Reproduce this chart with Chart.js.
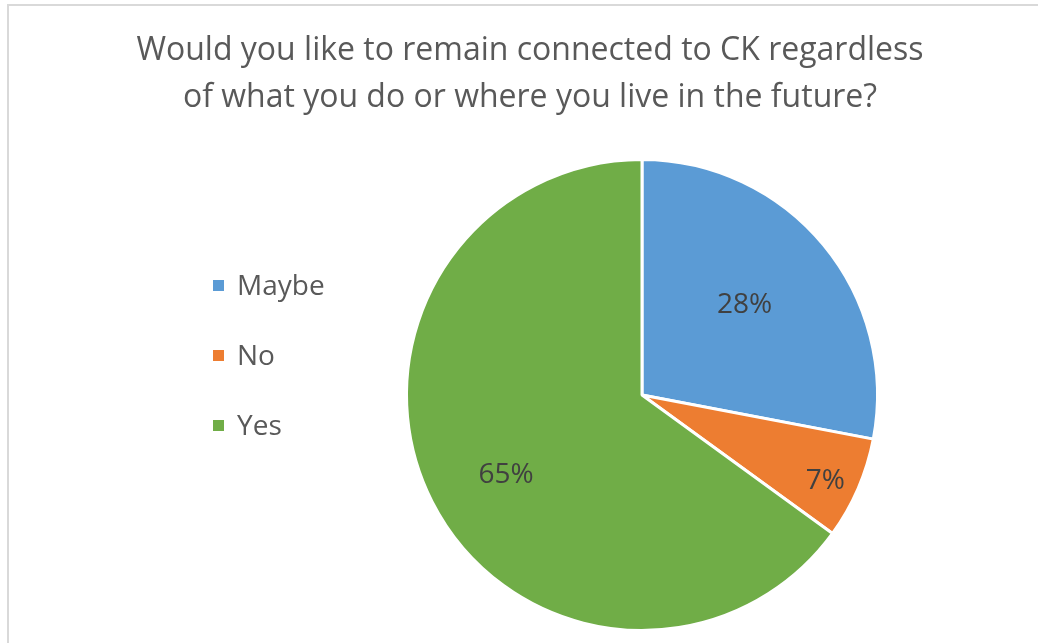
<!DOCTYPE html>
<html>
<head>
<meta charset="utf-8">
<script src="https://cdn.jsdelivr.net/npm/chart.js@4/dist/chart.umd.min.js"></script>
<style>
  html, body { margin: 0; padding: 0; background: #fff; overflow: hidden; }
  #wrap { position: relative; width: 1038px; height: 643px; }
  #frame { position: absolute; left: 7px; top: 4px; width: 1100px; height: 700px;
           border: 2px solid #d9d9d9; box-sizing: border-box; }
  #chart { position: absolute; left: 0; top: 0; }
  #title { position: absolute; left: 30px; width: 1000px; top: 24px; text-align: center;
           font-family: "Open Sans", sans-serif; font-size: 32px; line-height: 47px; color: #595959; }
  #legend { position: absolute; left: 213px; top: 267px; font-family: "Open Sans", sans-serif;
            font-size: 28px; color: #595959; }
  #legend .item { height: 70px; line-height: 34px; white-space: nowrap; }
  #legend .box { display: inline-block; width: 11px; height: 11px; margin-right: 13px;
                 vertical-align: 4px; }
</style>
</head>
<body>
<div id="wrap">
  <div id="frame"></div>
  <canvas id="chart" width="1038" height="643"></canvas>
  <div id="title"></div>
  <div id="legend"></div>
</div>
<script>
var titleLines = ['Would you like to remain connected to CK regardless',
                  'of what you do or where you live in the future?'];
var categories = ['Maybe', 'No', 'Yes'];
var shares = [28, 7, 65];
var sliceColors = ['#5B9BD5', '#ED7D31', '#70AD47'];

(function () {
  var title = document.getElementById('title');
  titleLines.forEach(function (line) {
    var d = document.createElement('div');
    d.textContent = line;
    title.appendChild(d);
  });

  // legend, built from the same arrays
  var legend = document.getElementById('legend');
  categories.forEach(function (name, i) {
    var row = document.createElement('div');
    row.className = 'item';
    var box = document.createElement('span');
    box.className = 'box';
    box.style.background = sliceColors[i];
    row.appendChild(box);
    row.appendChild(document.createTextNode(name));
    legend.appendChild(row);
  });

  // percentage labels inside the slices
  var sliceLabels = {
    id: 'sliceLabels',
    afterDatasetsDraw: function (chart, args, opts) {
      var ctx = chart.ctx;
      var meta = chart.getDatasetMeta(0);
      ctx.save();
      ctx.font = '28px "Open Sans", sans-serif';
      ctx.fillStyle = '#404040';
      ctx.textAlign = 'center';
      ctx.textBaseline = 'middle';
      meta.data.forEach(function (arc, i) {
        var p = arc.getProps(['x', 'y', 'startAngle', 'endAngle', 'outerRadius'], true);
        var mid = (p.startAngle + p.endAngle) / 2 + (opts.shift[i] || 0);
        var r = p.outerRadius * opts.radius[i];
        ctx.fillText(chart.data.datasets[0].data[i] + '%',
          p.x + Math.cos(mid) * r, p.y + Math.sin(mid) * r);
      });
      ctx.restore();
    }
  };

  var ctx = document.getElementById('chart').getContext('2d');
  new Chart(ctx, {
    type: 'pie',
    data: {
      labels: categories,
      datasets: [{
        data: shares,
        backgroundColor: sliceColors,
        borderColor: '#ffffff',
        borderWidth: 3
      }]
    },
    options: {
      responsive: false,
      animation: false,
      layout: { padding: { left: 405, right: 159, top: 158, bottom: 11 } },
      plugins: {
        legend: { display: false },
        tooltip: { enabled: false },
        title: { display: false },
        sliceLabels: {
          radius: [0.58, 0.86, 0.67],
          shift: [-0.03, 0.03, -0.06]
        }
      }
    },
    plugins: [sliceLabels]
  });
})();
</script>
</body>
</html>
